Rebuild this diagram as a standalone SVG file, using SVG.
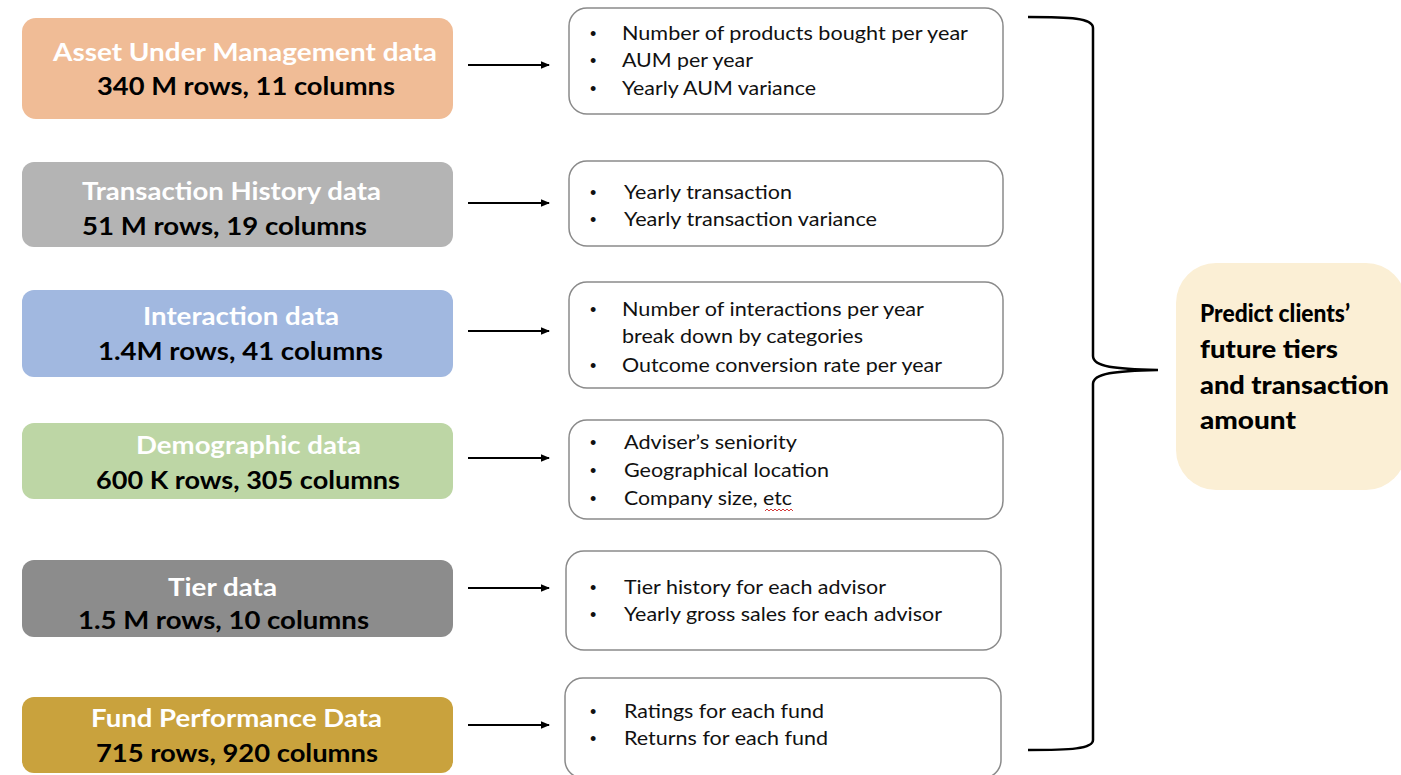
<svg xmlns="http://www.w3.org/2000/svg" width="1401" height="775" viewBox="0 0 1401 775">
  <defs>
    <marker id="arrowhead" markerWidth="9" markerHeight="9" refX="8" refY="4.5" orient="auto" markerUnits="userSpaceOnUse">
      <path d="M0,0.8 L9,4.5 L0,8.2 Z" fill="#000"/>
    </marker>
    <style>
      .src { stroke: none; }
      .title { font-family: Lato, "Open Sans", sans-serif; font-weight: 700; font-size: 25px; fill: #ffffff; text-anchor: start; }
      .stats { font-family: Lato, "Open Sans", sans-serif; font-weight: 700; font-size: 25px; fill: #000000; text-anchor: start; }
      .feat { fill: #ffffff; stroke: #8a8a8a; stroke-width: 1.5; }
      .item { font-family: Lato, "Open Sans", sans-serif; font-size: 20px; fill: #111111; }
      .bullet { font-family: "Liberation Sans", sans-serif; font-size: 18px; fill: #111111; }
      .conn { stroke: #000; stroke-width: 2.2; fill: none; marker-end: url(#arrowhead); }
      .goal { font-family: Lato, "Open Sans", sans-serif; font-weight: 900; font-size: 25px; fill: #000; }
    </style>
  </defs>

  <rect width="1401" height="775" fill="#ffffff"/>

  <!-- data sources -->
  <g id="aum-data">
    <rect class="src" x="22" y="18" width="431" height="101" rx="14" fill="#F0BC96"/>
    <text class="title" x="53" y="61" textLength="384" lengthAdjust="spacingAndGlyphs">Asset Under Management data</text>
    <text class="stats" x="97" y="95" textLength="298" lengthAdjust="spacingAndGlyphs">340 M rows, 11 columns</text>
  </g>
  <g id="transaction-data">
    <rect class="src" x="22" y="162" width="431" height="85" rx="12" fill="#B4B4B4"/>
    <text class="title" x="82" y="200" textLength="299" lengthAdjust="spacingAndGlyphs">Transaction History data</text>
    <text class="stats" x="82" y="235" textLength="285" lengthAdjust="spacingAndGlyphs">51 M rows, 19 columns</text>
  </g>
  <g id="interaction-data">
    <rect class="src" x="22" y="290" width="431" height="87" rx="12" fill="#A1B8E0"/>
    <text class="title" x="143" y="325" textLength="196" lengthAdjust="spacingAndGlyphs">Interaction data</text>
    <text class="stats" x="98" y="360" textLength="285" lengthAdjust="spacingAndGlyphs">1.4M rows, 41 columns</text>
  </g>
  <g id="demographic-data">
    <rect class="src" x="22" y="423" width="431" height="76" rx="12" fill="#BDD6A5"/>
    <text class="title" x="136" y="454" textLength="225" lengthAdjust="spacingAndGlyphs">Demographic data</text>
    <text class="stats" x="96" y="489" textLength="304" lengthAdjust="spacingAndGlyphs">600 K rows, 305 columns</text>
  </g>
  <g id="tier-data">
    <rect class="src" x="22" y="560" width="431" height="77" rx="12" fill="#8C8C8C"/>
    <text class="title" x="168" y="596" textLength="109" lengthAdjust="spacingAndGlyphs">Tier data</text>
    <text class="stats" x="78" y="629" textLength="291" lengthAdjust="spacingAndGlyphs">1.5 M rows, 10 columns</text>
  </g>
  <g id="fund-data">
    <rect class="src" x="22" y="697" width="431" height="76" rx="12" fill="#C9A23D"/>
    <text class="title" x="91" y="727" textLength="291" lengthAdjust="spacingAndGlyphs">Fund Performance Data</text>
    <text class="stats" x="96" y="762" textLength="282" lengthAdjust="spacingAndGlyphs">715 rows, 920 columns</text>
  </g>

  <!-- derived features -->
  <g id="aum-features">
    <rect class="feat" x="569" y="8" width="434" height="106" rx="18"/>
    <text class="bullet" x="590" y="40">•</text>
    <text class="bullet" x="590" y="67">•</text>
    <text class="bullet" x="590" y="95">•</text>
    <text class="item" x="622" y="40" textLength="346" lengthAdjust="spacingAndGlyphs">Number of products bought per year</text>
    <text class="item" x="622" y="67" textLength="131" lengthAdjust="spacingAndGlyphs">AUM per year</text>
    <text class="item" x="622" y="95" textLength="194" lengthAdjust="spacingAndGlyphs">Yearly AUM variance</text>
  </g>
  <g id="transaction-features">
    <rect class="feat" x="569" y="161" width="434" height="85" rx="18"/>
    <text class="bullet" x="590" y="199">•</text>
    <text class="bullet" x="590" y="226">•</text>
    <text class="item" x="624" y="199" textLength="168" lengthAdjust="spacingAndGlyphs">Yearly transaction</text>
    <text class="item" x="624" y="226" textLength="253" lengthAdjust="spacingAndGlyphs">Yearly transaction variance</text>
  </g>
  <g id="interaction-features">
    <rect class="feat" x="569" y="282" width="434" height="106" rx="18"/>
    <text class="bullet" x="590" y="316">•</text>
    <text class="bullet" x="590" y="372">•</text>
    <text class="item" x="622" y="316" textLength="302" lengthAdjust="spacingAndGlyphs">Number of interactions per year</text>
    <text class="item" x="622" y="343" textLength="241" lengthAdjust="spacingAndGlyphs">break down by categories</text>
    <text class="item" x="622" y="372" textLength="320" lengthAdjust="spacingAndGlyphs">Outcome conversion rate per year</text>
  </g>
  <g id="demographic-features">
    <rect class="feat" x="569" y="420" width="434" height="99" rx="18"/>
    <text class="bullet" x="590" y="449">•</text>
    <text class="bullet" x="590" y="477">•</text>
    <text class="bullet" x="590" y="505">•</text>
    <text class="item" x="624" y="449" textLength="173" lengthAdjust="spacingAndGlyphs">Adviser’s seniority</text>
    <text class="item" x="624" y="477" textLength="205" lengthAdjust="spacingAndGlyphs">Geographical location</text>
    <text class="item" x="624" y="505" textLength="168" lengthAdjust="spacingAndGlyphs">Company size, etc</text>
    <!-- spell-check squiggle under "etc" -->
    <path d="M765,511 l2,-2 l2,2 l2,-2 l2,2 l2,-2 l2,2 l2,-2 l2,2 l2,-2 l2,2 l2,-2 l2,2 l2,-2 l2,2" fill="none" stroke="#d43a3a" stroke-width="1"/>
  </g>
  <g id="tier-features">
    <rect class="feat" x="566" y="551" width="435" height="99" rx="18"/>
    <text class="bullet" x="590" y="594">•</text>
    <text class="bullet" x="590" y="621">•</text>
    <text class="item" x="624" y="594" textLength="262" lengthAdjust="spacingAndGlyphs">Tier history for each advisor</text>
    <text class="item" x="624" y="621" textLength="318" lengthAdjust="spacingAndGlyphs">Yearly gross sales for each advisor</text>
  </g>
  <g id="fund-features">
    <rect class="feat" x="565" y="678" width="436" height="100" rx="18"/>
    <text class="bullet" x="590" y="718">•</text>
    <text class="bullet" x="590" y="745">•</text>
    <text class="item" x="624" y="718" textLength="200" lengthAdjust="spacingAndGlyphs">Ratings for each fund</text>
    <text class="item" x="624" y="745" textLength="204" lengthAdjust="spacingAndGlyphs">Returns for each fund</text>
  </g>

  <!-- prediction target -->
  <g id="prediction">
    <rect x="1176" y="263" width="230" height="227" rx="40" fill="#FBEFD5"/>
    <text class="goal" x="1200" y="322" textLength="150" lengthAdjust="spacingAndGlyphs">Predict clients’</text>
    <text class="goal" x="1200" y="358" textLength="138" lengthAdjust="spacingAndGlyphs">future tiers</text>
    <text class="goal" x="1200" y="394" textLength="189" lengthAdjust="spacingAndGlyphs">and transaction</text>
    <text class="goal" x="1200" y="429" textLength="96" lengthAdjust="spacingAndGlyphs">amount</text>
  </g>

  <!-- connectors -->
  <g id="connectors">
    <line class="conn" x1="468" y1="65" x2="549" y2="65"/>
    <line class="conn" x1="468" y1="203" x2="549" y2="203"/>
    <line class="conn" x1="468" y1="331" x2="549" y2="331"/>
    <line class="conn" x1="468" y1="458" x2="549" y2="458"/>
    <line class="conn" x1="468" y1="588" x2="549" y2="588"/>
    <line class="conn" x1="468" y1="725" x2="549" y2="725"/>
    <path d="M1028,17 C1070,17 1093,18 1093,28 L1093,356 C1093,367 1115,369 1158,370 C1115,371 1093,373 1093,384 L1093,740 C1093,749 1070,750 1028,750" fill="none" stroke="#000" stroke-width="2.5"/>
  </g>
</svg>
